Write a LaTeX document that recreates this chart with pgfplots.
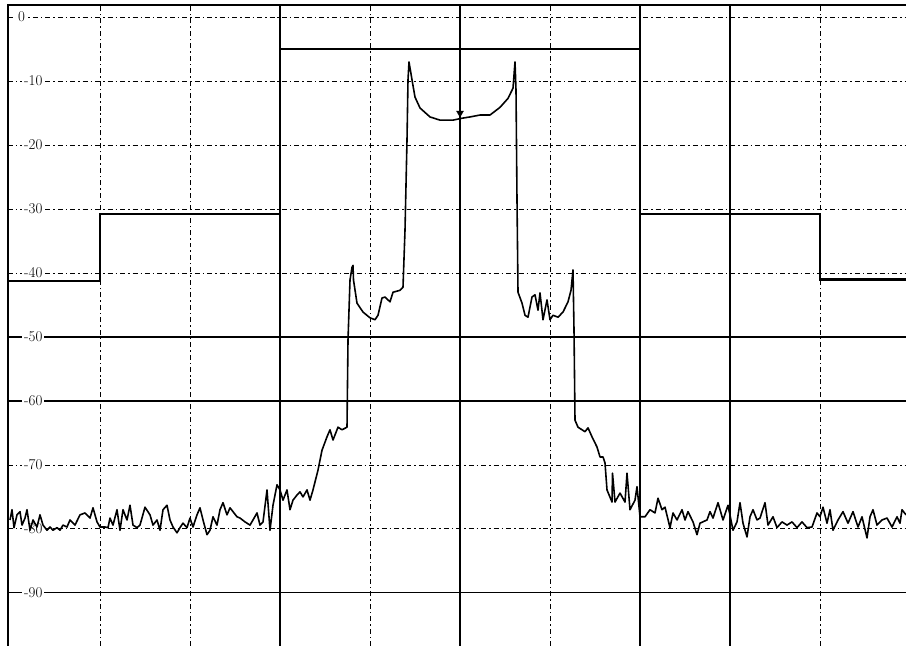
\documentclass[border=0pt]{standalone}
\usepackage{pgfplots}
\pgfplotsset{compat=1.18}
\begin{document}
\begin{tikzpicture}
\begin{axis}[
  scale only axis, width=898bp, height=641bp,
  xmin=-2, xmax=896, ymin=-98.3, ymax=1.9,
  axis line style={draw=none},
  xtick={90,180,360,540,810}, ytick={0,-10,-20,-30,-40,-70,-80},
  extra x ticks={270,450,630,720}, extra y ticks={-50,-60,-90},
  xticklabels={}, yticklabels={}, extra x tick labels={}, extra y tick labels={},
  major tick length=0pt,
  grid=major,
  major grid style={black, line width=0.9pt, dash pattern=on 5pt off 3pt on 1.5pt off 3pt},
  extra tick style={grid=major, major grid style={black, line width=1.1pt, solid}},
  clip=false,
]
% frame (left and top)
\draw[line width=1.8pt] (rel axis cs:0,0) -- (rel axis cs:0,1) -- (rel axis cs:1,1);
% level labels
\pgfplotsinvokeforeach{-10,-20,-30,-40,-50,-60,-70,-80,-90}{
  \node[anchor=west, fill=white, inner sep=2pt, font=\fontsize{15}{17}\selectfont] at (axis cs:12,#1) {#1};
}
\node[anchor=west, fill=white, inner sep=2pt, font=\fontsize{15}{17}\selectfont] at (axis cs:6,0) {0};
% limit mask
\addplot[const plot, black, line width=2.2pt] coordinates {
(-2,-41.2) (90,-30.8) (270,-5.0) (630,-30.8) (810,-41.0) (896,-41.0)
};
% spectrum trace
\addplot[black, line width=1.6pt, line join=round] coordinates {
(0,-78.6) (2,-77.0) (4,-79.8) (7,-77.8) (10,-77.3) (12,-79.4) (15,-78.3) (17,-77.0)
(20,-80.2) (23,-78.6) (27,-79.7) (30,-77.8) (33,-79.4) (37,-80.2) (40,-79.7) (43,-80.2)
(47,-79.8) (50,-80.2) (53,-79.4) (57,-79.7) (60,-78.6) (65,-79.4) (70,-77.8) (75,-77.5)
(80,-78.3) (83,-76.7) (87,-78.9) (90,-79.7) (95,-79.7) (98,-79.8) (100,-78.3) (103,-79.4)
(107,-77.0) (110,-80.2) (113,-77.0) (117,-78.6) (120,-76.3) (123,-79.4) (127,-79.8) (130,-79.4)
(135,-76.6) (140,-77.8) (143,-79.4) (147,-78.6) (150,-80.2) (153,-77.0) (157,-76.3) (160,-78.6)
(163,-79.7) (167,-80.6) (170,-79.8) (173,-79.1) (177,-79.8) (180,-78.3) (183,-79.7) (187,-77.8)
(190,-76.7) (193,-78.6) (197,-80.9) (200,-80.2) (203,-78.1) (207,-79.4) (210,-77.0) (213,-75.9)
(217,-77.8) (220,-76.7) (223,-77.3) (227,-78.1) (230,-78.3) (235,-78.9) (240,-79.4) (243,-78.6)
(247,-77.5) (250,-79.4) (253,-78.9) (257,-73.9) (260,-80.2) (263,-76.3) (267,-73.1) (270,-73.9)
(273,-75.5) (277,-73.9) (280,-77.0) (283,-75.5) (287,-74.7) (290,-74.2) (293,-75.0) (297,-73.9)
(300,-75.5) (303,-73.9) (308,-70.8) (312,-67.7) (317,-65.6) (320,-64.5) (323,-66.1) (328,-64.1)
(332,-64.5) (337,-64.1) (338,-50.5) (340,-41.1) (342,-39.1) (343,-38.8) (343.5,-41.1) (347,-44.7)
(353,-46.1) (360,-47.0) (365,-47.3) (368,-46.6) (372,-43.9) (375,-43.75) (380,-44.5) (383,-43.0)
(390,-42.7) (393,-42.2) (395,-33.3) (397,-19.2) (398,-9.8) (399,-7.0) (402,-9.8) (405,-12.5)
(410,-14.2) (420,-15.6) (430,-16.1) (443,-16.1) (452,-15.8) (460,-15.6) (470,-15.3) (480,-15.3)
(490,-14.1) (498,-12.7) (503,-11.1) (505,-7.0) (506,-11.4) (507,-28.6) (508,-43.0) (512,-44.7)
(515,-46.6) (518,-46.9) (522,-43.75) (525,-43.4) (528,-45.8) (530,-43.1) (533,-47.3) (537,-44.2)
(540,-47.3) (543,-46.6) (548,-46.9) (553,-46.1) (558,-44.5) (561,-42.7) (563,-39.5) (564,-48.9)
(565,-63.0) (568,-64.1) (575,-64.8) (578,-64.2) (582,-65.6) (587,-67.2) (590,-68.75) (593,-68.75)
(595,-69.7) (597,-73.9) (602,-75.8) (602.5,-71.3) (605,-75.8) (610,-74.4) (615,-75.8) (617,-71.3)
(620,-77.0) (625,-75.5) (627,-73.4) (630,-78.1) (635,-78.1) (640,-77.0) (645,-77.5) (648,-75.2)
(652,-77.0) (655,-76.6) (660,-79.8) (663,-77.5) (667,-78.6) (672,-77.0) (675,-78.6) (678,-77.3)
(683,-78.9) (687,-80.9) (690,-79.1) (697,-78.6) (700,-77.3) (703,-78.3) (708,-75.9) (713,-78.6)
(718,-76.3) (723,-80.2) (727,-78.9) (730,-75.9) (733,-79.1) (737,-81.25) (740,-78.1) (743,-77.0)
(747,-78.6) (750,-78.3) (755,-75.9) (758,-79.4) (763,-78.1) (767,-79.8) (772,-78.9) (777,-79.4)
(782,-78.9) (787,-79.8) (792,-78.9) (797,-79.8) (802,-79.7) (807,-77.5) (810,-78.1) (813,-76.6)
(817,-79.1) (820,-77.0) (823,-80.2) (828,-78.6) (833,-77.3) (838,-79.1) (843,-77.3) (848,-79.7)
(852,-78.1) (857,-81.4) (860,-78.1) (863,-77.0) (867,-79.4) (872,-78.6) (877,-78.3) (882,-79.7)
(887,-78.1) (890,-79.1) (892,-77.0) (896,-77.8)
};
% marker
\addplot[only marks, mark=triangle*, mark size=4pt, mark options={rotate=180, fill=black}] coordinates {(450,-15.0)};
\end{axis}
\pgfresetboundingbox
\path ([xshift=-8bp]current axis.south west) rectangle ([yshift=5bp]current axis.north east);
\end{tikzpicture}
\end{document}
